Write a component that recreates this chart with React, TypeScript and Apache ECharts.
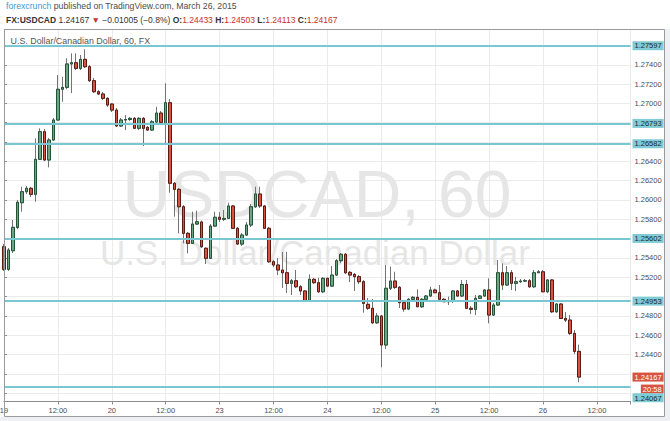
import React, { useEffect, useRef } from 'react';
import * as echarts from 'echarts';

// hourly USDCAD candles, bar 0 sits on the "19" tick
const opens = [
  1.25516, 1.25282, 1.25475, 1.25717, 1.25972, 1.26086, 1.26121, 1.26059, 1.26421, 1.26707,
  1.26414, 1.26621, 1.26828, 1.27146, 1.27166, 1.27408, 1.27421, 1.27363, 1.27456, 1.27380,
  1.27235, 1.27121, 1.27097, 1.27052, 1.26993, 1.26931, 1.26766, 1.26828, 1.26833, 1.26845,
  1.26742, 1.26845, 1.26752, 1.26724, 1.26807, 1.26900, 1.26793, 1.27007, 1.26173, 1.26110,
  1.25930, 1.25655, 1.25551, 1.25751, 1.25772, 1.25500, 1.25396, 1.25730, 1.25821, 1.25800,
  1.25810, 1.25938, 1.25707, 1.25544, 1.25637, 1.25741, 1.25930, 1.26062, 1.25938, 1.25707,
  1.25361, 1.25327, 1.25275, 1.25247, 1.25137, 1.25164, 1.25102, 1.25058, 1.24954, 1.25179,
  1.25144, 1.25050, 1.25189, 1.25109, 1.25223, 1.25371, 1.25438, 1.25251, 1.25230, 1.25206,
  1.25154, 1.24920, 1.24879, 1.24729, 1.24799, 1.24499, 1.25086, 1.25161, 1.25096, 1.24937,
  1.24871, 1.24972, 1.24992, 1.24895, 1.24972, 1.25006, 1.25068, 1.25040, 1.24972, 1.24947,
  1.24954, 1.25058, 1.25006, 1.25125, 1.24879, 1.24868, 1.24982, 1.25006, 1.25068, 1.24809,
  1.24913, 1.25247, 1.25120, 1.25247, 1.25137, 1.25154, 1.25161, 1.25164, 1.25102, 1.25247,
  1.25257, 1.25050, 1.25172, 1.24843, 1.24923, 1.24774, 1.24757, 1.24619, 1.24433,
];
const highs = [
  1.25544, 1.25503, 1.25793, 1.26000, 1.26137, 1.26145, 1.26137, 1.26638, 1.26742, 1.26735,
  1.26641, 1.26849, 1.27294, 1.27276, 1.27467, 1.27518, 1.27518, 1.27501, 1.27560, 1.27397,
  1.27263, 1.27138, 1.27118, 1.27064, 1.27004, 1.26952, 1.26849, 1.26880, 1.26859, 1.26859,
  1.26859, 1.26859, 1.26766, 1.26828, 1.26965, 1.26921, 1.27208, 1.27045, 1.26186, 1.26124,
  1.25948, 1.25668, 1.25879, 1.25889, 1.25787, 1.25510, 1.25751, 1.25879, 1.25875, 1.25896,
  1.25972, 1.25948, 1.25720, 1.25658, 1.25772, 1.25958, 1.26137, 1.26137, 1.25948, 1.25720,
  1.25379, 1.25399, 1.25461, 1.25464, 1.25182, 1.25275, 1.25120, 1.25068, 1.25230, 1.25192,
  1.25195, 1.25203, 1.25196, 1.25316, 1.25389, 1.25451, 1.25451, 1.25265, 1.25244, 1.25223,
  1.25172, 1.24985, 1.24975, 1.24830, 1.24809, 1.25327, 1.25309, 1.25257, 1.25110, 1.24964,
  1.24985, 1.25006, 1.25075, 1.24985, 1.25016, 1.25102, 1.25082, 1.25120, 1.24985, 1.24999,
  1.25068, 1.25068, 1.25172, 1.25172, 1.24902, 1.25016, 1.25016, 1.25079, 1.25189, 1.24933,
  1.25379, 1.25344, 1.25316, 1.25275, 1.25203, 1.25182, 1.25182, 1.25182, 1.25275, 1.25275,
  1.25275, 1.25182, 1.25182, 1.24933, 1.24933, 1.24840, 1.24809, 1.24654, 1.24503,
];
const lows = [
  1.25265, 1.25265, 1.25451, 1.25699, 1.25879, 1.26062, 1.26031, 1.25982, 1.26414, 1.26403,
  1.26338, 1.26610, 1.26818, 1.27017, 1.27146, 1.27107, 1.27345, 1.27345, 1.27366, 1.27221,
  1.27107, 1.27086, 1.27035, 1.26962, 1.26911, 1.26755, 1.26755, 1.26724, 1.26818, 1.26735,
  1.26724, 1.26559, 1.26714, 1.26714, 1.26797, 1.26786, 1.26590, 1.26075, 1.25827, 1.25655,
  1.25551, 1.25448, 1.25544, 1.25741, 1.25503, 1.25337, 1.25389, 1.25720, 1.25772, 1.25782,
  1.25803, 1.25699, 1.25534, 1.25524, 1.25627, 1.25720, 1.25917, 1.25917, 1.25699, 1.25347,
  1.25306, 1.25223, 1.25089, 1.25037, 1.25016, 1.25089, 1.25016, 1.24944, 1.24944, 1.25130,
  1.25037, 1.25037, 1.25099, 1.25099, 1.25213, 1.25347, 1.25233, 1.25151, 1.25058, 1.25130,
  1.24833, 1.24861, 1.24716, 1.24716, 1.24268, 1.24457, 1.25068, 1.25079, 1.24882, 1.24843,
  1.24861, 1.24964, 1.24892, 1.24882, 1.24964, 1.24995, 1.25037, 1.24964, 1.24944, 1.24913,
  1.24933, 1.24995, 1.24995, 1.24871, 1.24820, 1.24809, 1.24975, 1.24995, 1.24723, 1.24799,
  1.24902, 1.25068, 1.25110, 1.25068, 1.25058, 1.25141, 1.25151, 1.25089, 1.25089, 1.25244,
  1.25047, 1.25037, 1.24830, 1.24830, 1.24768, 1.24737, 1.24602, 1.24405, 1.24113,
];
const closes = [
  1.25282, 1.25482, 1.25717, 1.25976, 1.26086, 1.26121, 1.26059, 1.26421, 1.26707, 1.26414,
  1.26621, 1.26828, 1.27146, 1.27166, 1.27408, 1.27421, 1.27363, 1.27456, 1.27380, 1.27235,
  1.27121, 1.27097, 1.27052, 1.26983, 1.26931, 1.26766, 1.26828, 1.26833, 1.26845, 1.26742,
  1.26845, 1.26742, 1.26724, 1.26810, 1.26900, 1.26804, 1.27007, 1.26173, 1.26110, 1.25930,
  1.25655, 1.25551, 1.25751, 1.25775, 1.25516, 1.25396, 1.25730, 1.25821, 1.25800, 1.25810,
  1.25938, 1.25707, 1.25544, 1.25637, 1.25741, 1.25930, 1.26062, 1.25938, 1.25707, 1.25361,
  1.25327, 1.25275, 1.25247, 1.25137, 1.25164, 1.25102, 1.25058, 1.24954, 1.25179, 1.25144,
  1.25050, 1.25189, 1.25109, 1.25223, 1.25371, 1.25438, 1.25247, 1.25223, 1.25206, 1.25154,
  1.24930, 1.24879, 1.24729, 1.24799, 1.24499, 1.25086, 1.25161, 1.25096, 1.24937, 1.24871,
  1.24972, 1.24992, 1.24895, 1.24972, 1.25006, 1.25068, 1.25040, 1.24972, 1.24947, 1.24954,
  1.25058, 1.25006, 1.25125, 1.24879, 1.24868, 1.24982, 1.25006, 1.25068, 1.24809, 1.24913,
  1.25247, 1.25120, 1.25247, 1.25137, 1.25154, 1.25161, 1.25164, 1.25102, 1.25247, 1.25257,
  1.25050, 1.25172, 1.24843, 1.24923, 1.24774, 1.24757, 1.24619, 1.24433, 1.24167,
];

// time axis labels, one every 12 bars starting at bar 0
const xTickLabels = ['19', '12:00', '20', '12:00', '23', '12:00', '24', '12:00', '25', '12:00', '26', '12:00'];
// horizontal support / resistance lines
const levelLines = [1.27597, 1.26793, 1.26582, 1.25602, 1.24953, 1.24067];
// price-axis labels hidden under the line labels
const hiddenAxisLabels = [1.276, 1.268, 1.266, 1.256, 1.25, 1.242, 1.24];
const lastPrice = 1.24167;
const barCountdown = '20:58';
const quoteValues = ['1.24167', '−0.01005 (−0.8%)'];
const quoteOHLC = ['1.24433', '1.24503', '1.24113', '1.24167'];
const yRange = [1.23914, 1.27765];
const xRange = [0, 139.47];

const FONT = '"Liberation Sans", Arial, sans-serif';
const TEAL_LINE = '#79c7d3';
const TEAL_BG = '#80cbd6';
const RED = '#d75442';

export default function App() {
  const ref = useRef<HTMLDivElement>(null);
  useEffect(() => {
    const chart = echarts.init(ref.current!, null, { renderer: 'svg' });
    const wickData = opens.map((o, i) => [i, o, closes[i], lows[i], highs[i]]);
    const bodyData = opens.map((o, i) => [i, o, closes[i], Math.min(o, closes[i]), Math.max(o, closes[i])]);

    const lineItems: any[] = levelLines.map((v) => {
      if (v === levelLines[levelLines.length - 1]) {
        return {
          yAxis: v,
          label: {
            formatter: (p: any) => '{g| }\n{v|' + Number(p.value).toFixed(5) + '}',
            backgroundColor: 'transparent',
            padding: 0,
            rich: {
              g: { lineHeight: 22, height: 22, fontSize: 7.5 },
              v: { backgroundColor: TEAL_BG, color: '#1b2a2d', padding: [1, 2, 0, 2], lineHeight: 12, fontSize: 7.5 },
            },
          },
        };
      }
      return { yAxis: v };
    });

    const priceItems: any[] = [
      {
        yAxis: lastPrice,
        lineStyle: { color: 'rgba(255,255,255,0)', width: 1, opacity: 1 },
        label: {
          show: true,
          opacity: 1,
          position: 'end',
          distance: 2,
          fontSize: 7.5,
          fontFamily: FONT,
          formatter: (p: any) => '{g| }\n{p|' + Number(p.value).toFixed(5) + '}\n{t|' + barCountdown + '}',
          backgroundColor: 'transparent',
          padding: 0,
          rich: {
            g: { lineHeight: 12, height: 12, fontSize: 7.5 },
            p: { backgroundColor: RED, color: '#ffffff', padding: [1, 2, 0, 2], lineHeight: 12, fontSize: 7.5 },
            t: { backgroundColor: RED, color: '#ffffff', padding: [1, 2, 0, 2], lineHeight: 12, fontSize: 7.5, align: 'right' },
          },
        },
      },
    ];

    const isHidden = (v: number) => hiddenAxisLabels.some((h) => Math.abs(h - v) < 1e-7);

    const option: any = {
      animation: false,
      backgroundColor: '#ffffff',
      textStyle: { fontFamily: FONT },
      grid: { left: 4, right: 39.5, top: 29.5, bottom: 19.5, outerBoundsMode: 'none', containLabel: false },
      xAxis: {
        type: 'value',
        min: xRange[0],
        max: xRange[1],
        interval: 12,
        axisLine: { show: true, lineStyle: { color: '#8c8c8c', width: 1 } },
        axisTick: { show: true, length: 3, lineStyle: { color: '#8c8c8c' } },
        axisLabel: {
          fontSize: 7.5,
          color: '#4d4d4d',
          margin: 5,
          fontFamily: FONT,
          showMinLabel: true,
          showMaxLabel: true,
          hideOverlap: false,
          formatter: (v: number) => {
            const k = Math.round(v / 12);
            if (Math.abs(v - k * 12) > 1e-6) return '';
            return xTickLabels[k] ?? '';
          },
        },
        splitLine: { show: true, lineStyle: { color: '#ebebeb', width: 1 } },
      },
      yAxis: {
        type: 'value',
        position: 'right',
        min: yRange[0],
        max: yRange[1],
        scale: true,
        splitNumber: 19,
        minInterval: 0.002,
        maxInterval: 0.002,
        axisLine: { show: true, lineStyle: { color: '#8c8c8c', width: 1 } },
        axisTick: { show: true, length: 3, inside: false, lineStyle: { color: '#8c8c8c' } },
        axisLabel: {
          fontSize: 7.5,
          color: '#4d4d4d',
          margin: 4,
          fontFamily: FONT,
          formatter: (v: number) => {
            const k = Math.round(v / 0.002);
            if (Math.abs(v - k * 0.002) > 1e-7) return '';
            if (isHidden(v)) return '';
            return v.toFixed(5);
          },
        },
        splitLine: { show: true, lineStyle: { color: '#ebebeb', width: 1 } },
      },
      series: [
        {
          type: 'candlestick',
          name: 'wicks',
          data: wickData,
          encode: { x: 0, y: [1, 2, 3, 4] },
          barWidth: 3,
          clip: true,
          silent: true,
          z: 2,
          itemStyle: {
            color: 'rgba(0,0,0,0)',
            color0: 'rgba(0,0,0,0)',
            borderColor: '#737375',
            borderColor0: '#737375',
            borderColorDoji: '#737375',
            borderWidth: 1,
          },
          markLine: {
            silent: true,
            animation: false,
            symbol: ['none', 'none'],
            precision: 5,
            emphasis: { disabled: true },
            data: priceItems,
          },
        },
        {
          type: 'candlestick',
          name: 'USDCAD',
          data: bodyData,
          encode: { x: 0, y: [1, 2, 3, 4] },
          barWidth: 3,
          clip: true,
          silent: true,
          z: 3,
          itemStyle: {
            color: '#6ba583',
            color0: RED,
            borderColor: '#225437',
            borderColor0: '#5b1a13',
            borderColorDoji: '#225437',
            borderWidth: 1,
          },
          markLine: {
            silent: true,
            animation: false,
            symbol: ['none', 'none'],
            precision: 5,
            lineStyle: { color: TEAL_LINE, width: 2, type: 'solid' },
            emphasis: { disabled: true },
            label: {
              show: true,
              position: 'end',
              distance: 2,
              fontSize: 7.5,
              fontFamily: FONT,
              color: '#1b2a2d',
              backgroundColor: TEAL_BG,
              padding: [1, 2, 0, 2],
              formatter: (p: any) => Number(p.value).toFixed(5),
            },
            data: lineItems,
          },
        },
      ],
      graphic: [
        { type: 'rect', z: 50, silent: true, shape: { x: 0, y: 417, width: 670, height: 4 }, style: { fill: '#eef0f4' } },
        { type: 'rect', z: 50, silent: true, shape: { x: 665, y: 29, width: 5, height: 392 }, style: { fill: '#eef0f4' } },
        {
          type: 'rect', z: 60, silent: true,
          shape: { x: 4.5, y: 29.5, width: 660, height: 387 },
          style: { fill: 'none', stroke: '#9a9a9a', lineWidth: 1 },
        },
        {
          type: 'text', z: 1, silent: true, x: 317, y: 194.4,
          style: { text: 'USDCAD, 60', fontSize: 66, fontFamily: FONT, fill: '#e6e6e6', align: 'center', verticalAlign: 'middle' },
        },
        {
          type: 'text', z: 1, silent: true, x: 315, y: 252,
          style: { text: 'U.S. Dollar/Canadian Dollar', fontSize: 35, fontFamily: FONT, fill: '#e6e6e6', align: 'center', verticalAlign: 'middle' },
        },
        {
          type: 'text', z: 60, silent: true, x: 10.5, y: 41.2,
          style: { text: 'U.S. Dollar/Canadian Dollar, 60, FX', fontSize: 8.9, fontFamily: FONT, fill: '#555555', align: 'left', verticalAlign: 'middle' },
        },
        {
          type: 'text', z: 60, silent: true, x: 6, y: 6,
          style: {
            text: '{a|forexcrunch} published on TradingView.com, March 26, 2015',
            fontSize: 8.7, fontFamily: FONT, fill: '#4d4d4d', align: 'left', verticalAlign: 'middle',
            rich: { a: { fill: '#3a9bd5', fontSize: 8.7, fontFamily: FONT } },
          },
        },
        {
          type: 'text', z: 60, silent: true, x: 6, y: 20.3,
          style: {
            text:
              '{b|FX:USDCAD} ' + quoteValues[0] + ' {r|▼} ' + quoteValues[1] +
              ' {b|O:}{v|' + quoteOHLC[0] + '} {b|H:}{v|' + quoteOHLC[1] + '} {b|L:}{v|' + quoteOHLC[2] + '} {b|C:}{v|' + quoteOHLC[3] + '}',
            fontSize: 8.5, fontFamily: FONT, fill: '#333333', align: 'left', verticalAlign: 'middle',
            rich: {
              b: { fontWeight: 'bold', fill: '#333333', fontSize: 8.5, fontFamily: FONT },
              r: { fill: '#c8302b', fontSize: 8.5, fontFamily: FONT },
              v: { fill: '#c8302b', fontSize: 8.5, fontFamily: FONT },
            },
          },
        },
      ],
    };
    chart.setOption(option);
    return () => chart.dispose();
  }, []);
  return <div ref={ref} style={{ position: 'absolute', left: 0, top: 0, width: 670, height: 421 }} />;
}
